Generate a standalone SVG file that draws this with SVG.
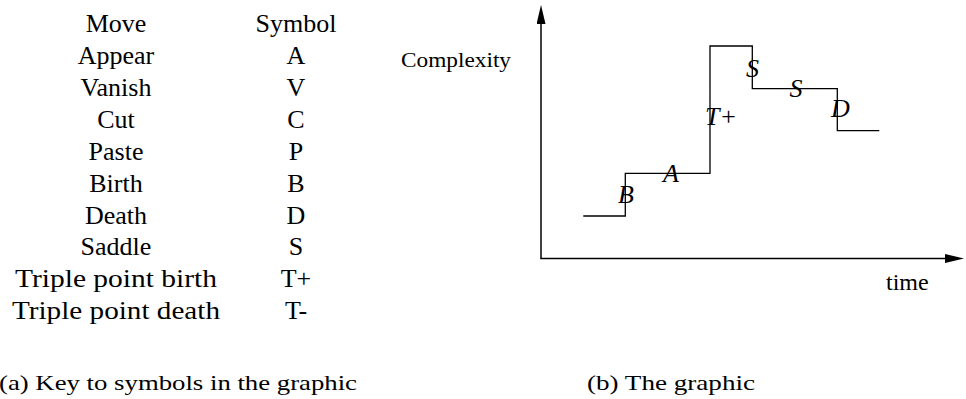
<svg xmlns="http://www.w3.org/2000/svg" width="966" height="399" viewBox="0 0 966 399">
<style>
.t{font-family:"Liberation Serif","Times New Roman",serif;fill:#000}
.tab{font-size:26px;text-anchor:middle}
.lab{font-size:26px;font-style:italic}
.cap{font-size:22px}
.ax{stroke:#000;stroke-width:1.5;fill:none}
.step{stroke:#000;stroke-width:1.3;fill:none}
</style>
<defs>
<marker id="arr" markerUnits="userSpaceOnUse" markerWidth="20" markerHeight="10" refX="5" refY="4.5" orient="auto">
<path d="M0,0 L19,4.5 L0,9 z" fill="#000"/>
</marker>
</defs>
<rect width="966" height="399" fill="#fff"/>
<g id="key-table">
<text class="t tab" x="116" y="32">Move</text><text class="t tab" x="296" y="32">Symbol</text>
<text class="t tab" x="116" y="64">Appear</text><text class="t tab" x="296" y="64">A</text>
<text class="t tab" x="116" y="96">Vanish</text><text class="t tab" x="296" y="96">V</text>
<text class="t tab" x="116" y="128">Cut</text><text class="t tab" x="296" y="128">C</text>
<text class="t tab" x="116" y="160">Paste</text><text class="t tab" x="296" y="160">P</text>
<text class="t tab" x="116" y="192">Birth</text><text class="t tab" x="296" y="192">B</text>
<text class="t tab" x="116" y="223.5">Death</text><text class="t tab" x="296" y="223.5">D</text>
<text class="t tab" x="116" y="255">Saddle</text><text class="t tab" x="296" y="255">S</text>
<text class="t tab" x="116" y="287" textLength="202" lengthAdjust="spacingAndGlyphs">Triple point birth</text><text class="t tab" x="296" y="287">T+</text>
<text class="t tab" x="116" y="318.5" textLength="208" lengthAdjust="spacingAndGlyphs">Triple point death</text><text class="t tab" x="296" y="318.5">T-</text>
</g>
<text id="caption-a" class="t cap" x="-1" y="390" textLength="358" lengthAdjust="spacingAndGlyphs">(a) Key to symbols in the graphic</text>
<g id="axes">
<line class="ax" x1="541" y1="258.5" x2="541" y2="19" marker-end="url(#arr)"/>
<line class="ax" x1="540.3" y1="258.5" x2="950" y2="258.5" marker-end="url(#arr)"/>
<text class="t cap" x="401" y="67" textLength="110" lengthAdjust="spacingAndGlyphs">Complexity</text>
<text class="t" x="886" y="290" font-size="24">time</text>
</g>
<g id="complexity-curve">
<path class="step" d="M583.3,216 H625.3 V173.3 H710 V46 H752.3 V88.7 H837.3 V130.7 H879.3"/>
</g>
<g id="move-labels">
<text class="t lab" x="618" y="203.3">B</text>
<text class="t lab" x="663" y="181.7">A</text>
<text class="t lab" x="705" y="125">T+</text>
<text class="t lab" x="746" y="76.7">S</text>
<text class="t lab" x="789.5" y="97.3">S</text>
<text class="t lab" x="831" y="117.3">D</text>
</g>
<text id="caption-b" class="t cap" x="587" y="390" textLength="168" lengthAdjust="spacingAndGlyphs">(b) The graphic</text>
</svg>
